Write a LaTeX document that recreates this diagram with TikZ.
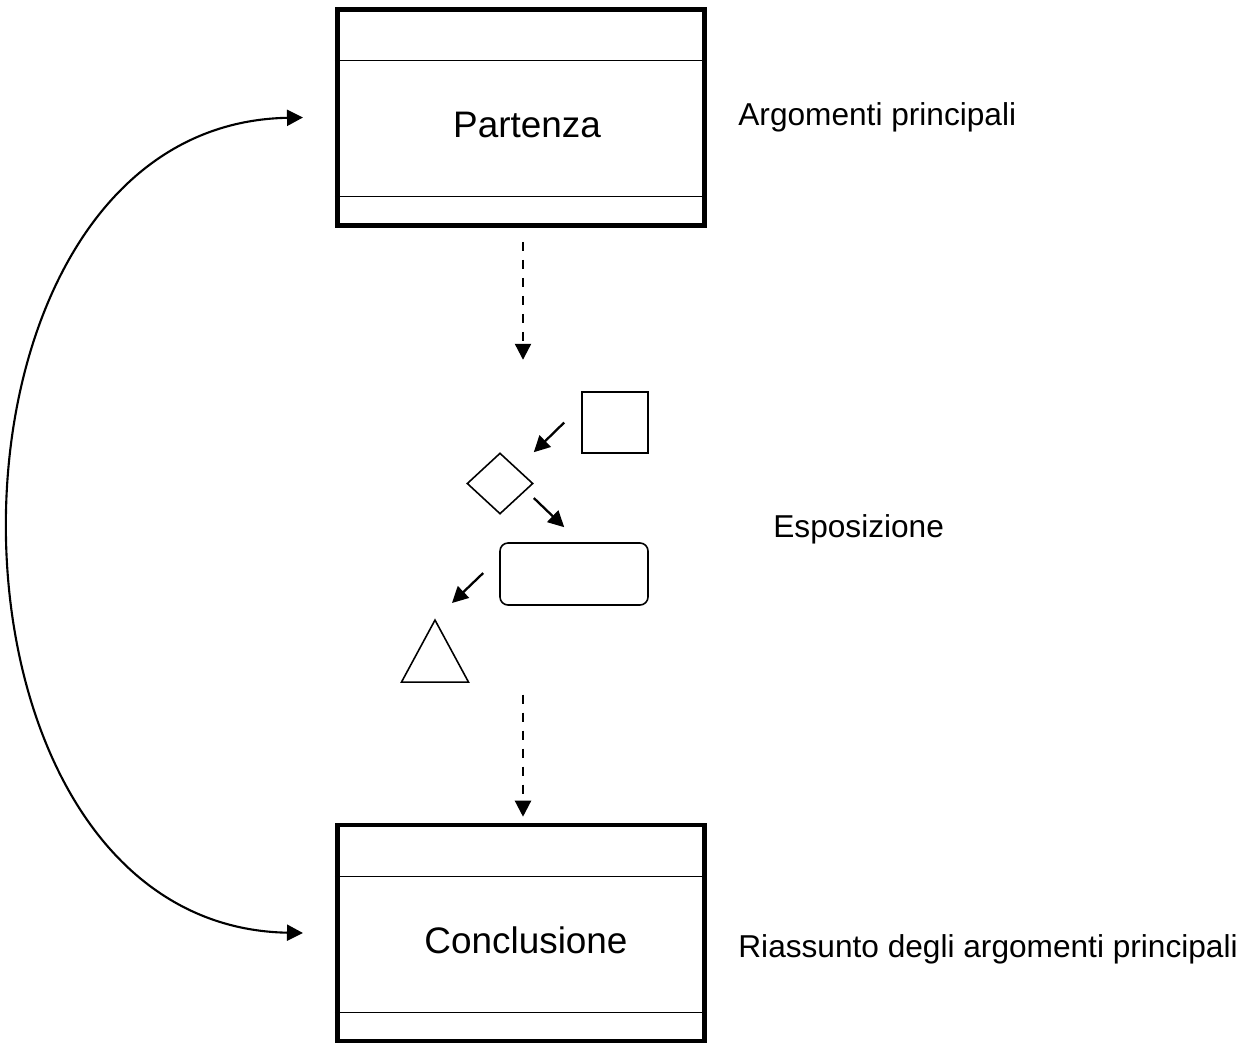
\documentclass[tikz,border=0pt]{standalone}
\usepackage{fontspec}
\setmainfont{Liberation Sans}
\usetikzlibrary{arrows.meta,positioning,calc,shapes.geometric}

\begin{document}
\begin{tikzpicture}[
  >={Triangle[length=0.32cm, width=0.32cm]},
  frame/.style={draw, line width=2.6pt, minimum width=7.35cm, minimum height=4.32cm, inner sep=0pt},
  title/.style={font=\fontsize{21}{25}\selectfont, inner sep=0pt},
  note/.style={font=\fontsize{18}{22}\selectfont, inner sep=0pt},
  sep/.style={line width=0.6pt},
  part/.style={draw, line width=0.9pt, inner sep=0pt},
  arr/.style={->, line width=1.3pt},
  dasharr/.style={->, line width=1.3pt, dash pattern=on 0.19cm off 0.17cm},
  looparr/.style={<->, line width=1.2pt}
]
\useasboundingbox (0,0) rectangle (24.88,-20.9);

\node[frame, label={[title, xshift=0.12cm, yshift=-0.15cm]center:Partenza}] (partenza) at (10.42,-2.35) {};
\node[frame, label={[title, xshift=0.1cm, yshift=-0.14cm]center:Conclusione}] (conclusione) at (10.42,-18.66) {};

\draw[sep] ([yshift=-1.07cm]partenza.north west) -- ([yshift=-1.07cm]partenza.north east);
\draw[sep] ([yshift=0.62cm]partenza.south west) -- ([yshift=0.62cm]partenza.south east);
\draw[sep] ([yshift=-1.07cm]conclusione.north west) -- ([yshift=-1.07cm]conclusione.north east);
\draw[sep] ([yshift=0.62cm]conclusione.south west) -- ([yshift=0.62cm]conclusione.south east);

\node[note, right=0.62cm of partenza] (partnote) {Argomenti principali};
\node[note, right=0.62cm of conclusione, yshift=-0.32cm] (concnote) {Riassunto degli argomenti principali};
\node[note, anchor=west] (expnote) at (15.46,-10.58) {Esposizione};

% esposizione
\node[part, minimum width=1.32cm, minimum height=1.22cm] (sq) at (12.30,-8.45) {};
\node[part, diamond, minimum width=1.32cm, minimum height=1.22cm] (dia) at (10.00,-9.67) {};
\node[part, rounded corners=0.16cm, minimum width=2.96cm, minimum height=1.24cm] (rr) at (11.48,-11.48) {};
\node[part, isosceles triangle, isosceles triangle stretches, shape border rotate=90,
  minimum width=1.34cm, minimum height=1.24cm, anchor=apex] (tri) at (8.70,-12.36) {};

\coordinate[left=0.34cm of sq.west] (sqout);
\draw[arr] (sqout) -- (dia.north -| dia.east);
\draw[arr] ([yshift=-0.29cm]dia.east) -- ($(rr.north west)+(1.30,0.30)$);
\draw[arr] ($(rr.west)+(-0.32,0.02)$) -- ($(tri.apex)+(0.34,0.30)$);

\draw[dasharr] ([xshift=0.04cm, yshift=-0.28cm]partenza.south) -- ([xshift=0.04cm, yshift=-2.64cm]partenza.south);
\draw[dasharr] ([xshift=0.04cm, yshift=2.56cm]conclusione.north) -- ([xshift=0.04cm, yshift=0.12cm]conclusione.north);

\coordinate[left=0.64cm of partenza.west] (loopa);
\coordinate[left=0.64cm of conclusione.west] (loopb);
\draw[looparr] (loopa) .. controls +(-7.82,-0.15) and +(-7.82,0.15) .. (loopb);

\end{tikzpicture}
\end{document}
